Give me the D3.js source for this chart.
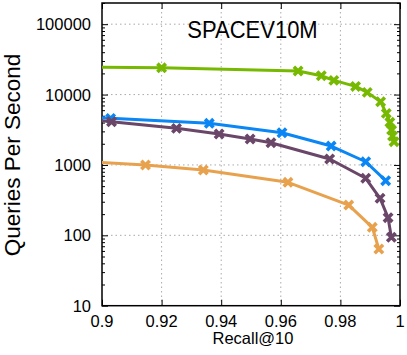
<!DOCTYPE html>
<html>
<head>
<meta charset="utf-8">
<script src="https://cdn.jsdelivr.net/npm/d3@7"></script>
<style>
  body { margin: 0; background: #fff; }
  svg { display: block; font-family: "Liberation Sans", Arial, sans-serif; }
</style>
</head>
<body>
<svg id="chart" width="407" height="355"></svg>
<script>
// values
var titleText = "SPACEV10M";
var xTicks = [0.9, 0.92, 0.94, 0.96, 0.98, 1];
var yTicks = [10, 100, 1000, 10000, 100000];

var recallGreen = [0.885, 0.92, 0.9658, 0.9736, 0.9778, 0.9851, 0.9890, 0.9935, 0.9954, 0.9966, 0.9972, 0.9975, 0.9980];
var qpsGreen    = [24600, 24000, 21600, 18500, 15900, 13060, 10740, 7900, 5400, 4030, 3130, 2580, 2140];

var recallBlue = [0.895, 0.9029, 0.9360, 0.9604, 0.9769, 0.9885, 0.9952];
var qpsBlue    = [4800, 4590, 3900, 2865, 1855, 1110, 597];

var recallPurple = [0.895, 0.9032, 0.9250, 0.9393, 0.9497, 0.9567, 0.9764, 0.9885, 0.9933, 0.9960, 0.9971];
var qpsPurple    = [4450, 4110, 3310, 2750, 2334, 2065, 1214, 646, 336, 178, 94];

var recallOrange = [0.885, 0.9146, 0.9340, 0.9624, 0.9828, 0.9907, 0.9929];
var qpsOrange    = [1180, 997, 847, 566, 269, 130, 64];

var series = [
  {x: recallGreen,  y: qpsGreen,  color: "#76b900"},
  {x: recallBlue,   y: qpsBlue,   color: "#0a86f5"},
  {x: recallPurple, y: qpsPurple, color: "#6a4668"},
  {x: recallOrange, y: qpsOrange, color: "#e8a24e"}
];

var pLeft = 102, pRight = 400, pTop = 3, pBottom = 305.7;

var svg = d3.select("#chart");
var x = d3.scaleLinear().domain([0.9, 1]).range([pLeft, pRight]);
var y = d3.scaleLog().domain([10, 200000]).range([pBottom, pTop]);

svg.append("defs").append("clipPath").attr("id", "plotclip")
  .append("rect").attr("x", pLeft).attr("y", pTop)
  .attr("width", pRight - pLeft).attr("height", pBottom - pTop);

// grid
var grid = svg.append("g").attr("stroke", "#aaa").attr("stroke-width", 1)
  .attr("stroke-dasharray", "1.5,3");
grid.selectAll("line.gx").data(xTicks.slice(1, -1)).enter().append("line")
  .attr("x1", function(d){ return x(d); }).attr("x2", function(d){ return x(d); })
  .attr("y1", pTop).attr("y2", pBottom);
grid.selectAll("line.gy").data(yTicks.slice(1)).enter().append("line")
  .attr("x1", pLeft).attr("x2", pRight)
  .attr("y1", function(d){ return y(d); }).attr("y2", function(d){ return y(d); });

// ticks inward on all four sides (gnuplot style)
var minor = [];
yTicks.forEach(function(t){
  for (var k = 2; k <= 9; k++) { if (t * k <= 200000) minor.push(t * k); }
});
svg.append("g").attr("transform", "translate(" + pLeft + ",0)")
  .call(d3.axisLeft(y).tickValues(yTicks).tickSize(-6).tickFormat(""));
svg.append("g").attr("transform", "translate(" + pLeft + ",0)")
  .call(d3.axisLeft(y).tickValues(minor).tickSize(-3).tickFormat(""));
svg.append("g").attr("transform", "translate(" + pRight + ",0)")
  .call(d3.axisRight(y).tickValues(yTicks).tickSize(-6).tickFormat(""));
svg.append("g").attr("transform", "translate(" + pRight + ",0)")
  .call(d3.axisRight(y).tickValues(minor).tickSize(-3).tickFormat(""));
svg.append("g").attr("transform", "translate(0," + pBottom + ")")
  .call(d3.axisBottom(x).tickValues(xTicks).tickSize(-6).tickFormat(""));
svg.append("g").attr("transform", "translate(0," + pTop + ")")
  .call(d3.axisTop(x).tickValues(xTicks).tickSize(-6).tickFormat(""));
svg.selectAll(".domain").remove();

// tick labels
svg.append("g").selectAll("text").data(yTicks).enter().append("text")
  .attr("x", pLeft - 11).attr("y", function(d){ return y(d); })
  .attr("dy", "0.36em").attr("text-anchor", "end")
  .attr("font-size", "16.5px").attr("fill", "#000")
  .text(function(d){ return d; });
svg.append("g").selectAll("text").data(xTicks).enter().append("text")
  .attr("x", function(d){ return x(d); }).attr("y", 327)
  .attr("text-anchor", "middle").attr("font-size", "16.5px").attr("fill", "#000")
  .text(function(d){ return d; });

// border
svg.append("rect").attr("x", pLeft).attr("y", pTop)
  .attr("width", pRight - pLeft).attr("height", pBottom - pTop)
  .attr("fill", "none").attr("stroke", "#000").attr("stroke-width", 1.5);

// series
var plot = svg.append("g").attr("clip-path", "url(#plotclip)");
var line = d3.line().x(function(d){ return x(d[0]); }).y(function(d){ return y(d[1]); });
var s = 4.2;
series.forEach(function(ser){
  var pts = ser.x.map(function(v, i){ return [v, ser.y[i]]; });
  plot.append("path").datum(pts).attr("d", line)
    .attr("fill", "none").attr("stroke", ser.color).attr("stroke-width", 3)
    .attr("stroke-linejoin", "round");
  plot.selectAll(null).data(pts).enter().append("path")
    .attr("transform", function(d){ return "translate(" + x(d[0]) + "," + y(d[1]) + ")"; })
    .attr("d", "M" + (-s) + "," + (-s) + "L" + s + "," + s + "M" + (-s) + "," + s + "L" + s + "," + (-s))
    .attr("stroke", ser.color).attr("stroke-width", 3.6).attr("fill", "none");
});

// title and axis labels
svg.append("text").attr("transform", "translate(252.5,38) scale(1,1.12)")
  .attr("text-anchor", "middle")
  .attr("font-size", "22px").attr("fill", "#000").text(titleText);
svg.append("text").attr("x", 253).attr("y", 344).attr("text-anchor", "middle")
  .attr("font-size", "16.5px").attr("fill", "#000").text("Recall@10");
svg.append("text").attr("transform", "translate(19.5,155) rotate(-90)")
  .attr("text-anchor", "middle").attr("font-size", "22.5px").attr("fill", "#000")
  .text("Queries Per Second");
</script>
</body>
</html>
